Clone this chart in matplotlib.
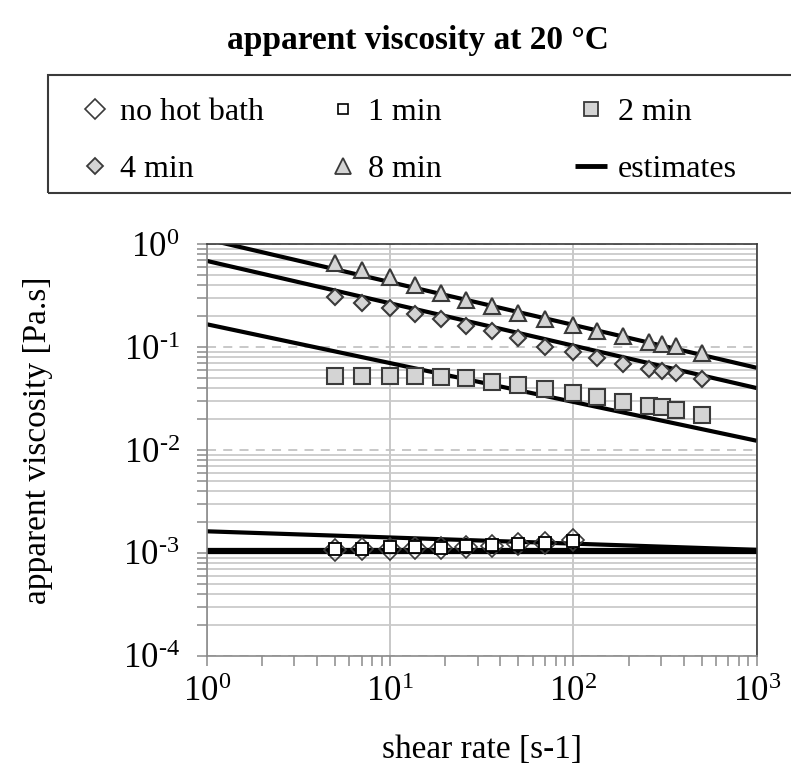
import matplotlib
matplotlib.use("Agg")
import matplotlib.pyplot as plt
from matplotlib.lines import Line2D
from matplotlib.patches import Rectangle
from matplotlib.ticker import LogLocator, NullFormatter

plt.rcParams['font.family'] = ['Liberation Serif', 'DejaVu Serif']
plt.rcParams['mathtext.fontset'] = 'custom'
plt.rcParams['mathtext.rm'] = 'Liberation Serif'
plt.rcParams['mathtext.it'] = 'Liberation Serif:italic'
plt.rcParams['mathtext.bf'] = 'Liberation Serif:bold'

# ---------------- data ----------------
shear_rate = [5, 7, 10, 13.7, 18.9, 26, 36, 50, 70, 100, 135, 187, 258, 303, 364, 505]
visc_8min = [0.66, 0.56, 0.48, 0.40, 0.333, 0.287, 0.25, 0.216, 0.186, 0.164,
             0.144, 0.128, 0.113, 0.107, 0.102, 0.088]
visc_4min = [0.305, 0.27, 0.238, 0.21, 0.186, 0.16, 0.143, 0.123, 0.101, 0.09,
             0.079, 0.068, 0.062, 0.059, 0.056, 0.049]
visc_2min = [0.052, 0.053, 0.053, 0.052, 0.0515, 0.05, 0.046, 0.043, 0.039, 0.0355,
             0.033, 0.029, 0.0267, 0.0263, 0.0244, 0.0219]

shear_rate_low = [5, 7, 10, 13.7, 18.9, 26, 36, 50, 70, 100]
visc_1min = [1.10e-3, 1.10e-3, 1.15e-3, 1.15e-3, 1.12e-3, 1.17e-3, 1.19e-3, 1.23e-3, 1.26e-3, 1.31e-3]
visc_nohot = [1.07e-3, 1.08e-3, 1.08e-3, 1.12e-3, 1.12e-3, 1.15e-3, 1.17e-3, 1.22e-3, 1.26e-3, 1.32e-3]

# estimate lines (power law -> straight on log-log), end values
est_x = [1, 1000]
est_8min = [1.12, 0.063]
est_4min = [0.69, 0.040]
est_2min = [0.167, 0.0123]
est_nohot = [1.62e-3, 1.07e-3]
est_1min = [1.05e-3, 1.05e-3]

legend_labels = ['no hot bath', '1 min', '2 min', '4 min', '8 min', 'estimates']
xtick_vals = [1, 10, 100, 1000]
xtick_labels = ['10$^{0}$', '10$^{1}$', '10$^{2}$', '10$^{3}$']
ytick_vals = [1e-4, 1e-3, 1e-2, 1e-1, 1]
ytick_labels = ['10$^{\\text{-}4}$', '10$^{\\text{-}3}$', '10$^{\\text{-}2}$',
                '10$^{\\text{-}1}$', '10$^{0}$']

# ---------------- figure ----------------
W, H = 791, 774
fig = plt.figure(figsize=(W / 100, H / 100), dpi=100)
AX_L, AX_R, AX_T, AX_B = 206.7, 756.7, 244.3, 655.7
ax = fig.add_axes([AX_L / W, 1 - AX_B / H, (AX_R - AX_L) / W, (AX_B - AX_T) / H])
ax.set_xscale('log')
ax.set_yscale('log')
ax.set_xlim(1, 1000)
ax.set_ylim(1e-4, 1)

# grid
ax.yaxis.set_minor_locator(LogLocator(base=10, subs=range(2, 10), numticks=20))
ax.xaxis.set_minor_locator(LogLocator(base=10, subs=range(2, 10), numticks=20))
ax.yaxis.set_minor_formatter(NullFormatter())
ax.xaxis.set_minor_formatter(NullFormatter())
ax.grid(True, which='minor', axis='y', color='#cacaca', lw=1.3, ls='-')
ax.grid(True, which='major', axis='y', color='#c4c4c4', lw=1.3, ls=(0, (5, 4)))
ax.grid(True, which='major', axis='x', color='#c4c4c4', lw=1.3, ls='-')
ax.set_axisbelow(True)

edge = '#3a3a3a'
fill = '#d4d4d4'
lw_est = 3.0

# estimates
for ys, lw in [(est_8min, lw_est), (est_4min, lw_est), (est_2min, lw_est),
               (est_nohot, lw_est), (est_1min, 4.5)]:
    ax.plot(est_x, ys, color='black', lw=lw, zorder=2, solid_capstyle='butt')

# data
ax.plot(shear_rate_low, visc_nohot, ls='none', marker='D', ms=11, mfc='none',
        mec=edge, mew=1.2, zorder=3)
ax.plot(shear_rate_low, visc_1min, ls='none', marker='s', ms=8, mfc='white',
        mec='black', mew=1.3, zorder=4)
ax.plot(shear_rate, visc_2min, ls='none', marker='s', ms=12, mfc=fill,
        mec=edge, mew=1.5, zorder=3)
ax.plot(shear_rate, visc_4min, ls='none', marker='D', ms=8.3, mfc=fill,
        mec=edge, mew=1.5, zorder=3)
ax.plot(shear_rate, visc_8min, ls='none', marker='^', ms=12, mfc=fill,
        mec=edge, mew=1.5, zorder=3)

# ticks
ax.set_xticks(xtick_vals)
ax.set_xticklabels(xtick_labels)
ax.set_yticks(ytick_vals)
ax.set_yticklabels(ytick_labels)
ax.tick_params(axis='both', which='major', direction='out', length=7.5, width=1.1,
               color='#8a8a8a', labelsize=25)
ax.tick_params(axis='y', which='major', pad=12)
ax.tick_params(axis='x', which='major', pad=7)
ax.tick_params(axis='both', which='minor', direction='out', length=7, width=1.1,
               color='#8a8a8a')
for s in ['left', 'bottom']:
    ax.spines[s].set_color('#8a8a8a')
    ax.spines[s].set_linewidth(1.2)
for s in ['top', 'right']:
    ax.spines[s].set_color('#3a3a3a')
    ax.spines[s].set_linewidth(1.2)

ax.set_xlabel('shear rate [s-1]', fontsize=24, va='center')
ax.xaxis.set_label_coords(0.5, (AX_B - 750) / (AX_B - AX_T))
ax.set_ylabel('apparent viscosity [Pa.s]', fontsize=24, va='center')
ax.yaxis.set_label_coords((38 - AX_L) / (AX_R - AX_L), (AX_B - 440) / (AX_B - AX_T))

fig.text(418 / W, 1 - 40 / H, 'apparent viscosity at 20 °C', fontsize=24,
         fontweight='bold', ha='center', va='center')

# legend (three columns, placed by hand)
fig.add_artist(Rectangle((48 / W, 1 - 193 / H), (840 - 48) / W, (193 - 75) / H,
                         transform=fig.transFigure, fill=False,
                         edgecolor='#3a3a3a', lw=1.5))
handles = [
    dict(ls='none', marker='D', ms=10, mfc='white', mec=edge, mew=1.2),
    dict(ls='none', marker='s', ms=7.5, mfc='white', mec='black', mew=1.2),
    dict(ls='none', marker='s', ms=10, mfc=fill, mec=edge, mew=1.3),
    dict(ls='none', marker='D', ms=8, mfc=fill, mec=edge, mew=1.3),
    dict(ls='none', marker='^', ms=11, mfc=fill, mec=edge, mew=1.3),
    dict(color='black', lw=3.5, solid_capstyle='butt'),
]
col_marker_x = [95, 343, 591]
col_text_x = [120, 368, 618]
row_y = [109, 166]
for i, lab in enumerate(legend_labels):
    r, c = divmod(i, 3)
    mx, ty = col_marker_x[c], row_y[r]
    if 'marker' in handles[i]:
        xs, ys = [mx / W], [1 - ty / H]
    else:
        xs, ys = [(mx - 16) / W, (mx + 16) / W], [1 - ty / H, 1 - ty / H]
    fig.add_artist(Line2D(xs, ys, transform=fig.transFigure, **handles[i]))
    fig.text(col_text_x[c] / W, 1 - ty / H, lab, fontsize=23, ha='left',
             va='center_baseline')

fig.savefig('out.png', dpi=100)
